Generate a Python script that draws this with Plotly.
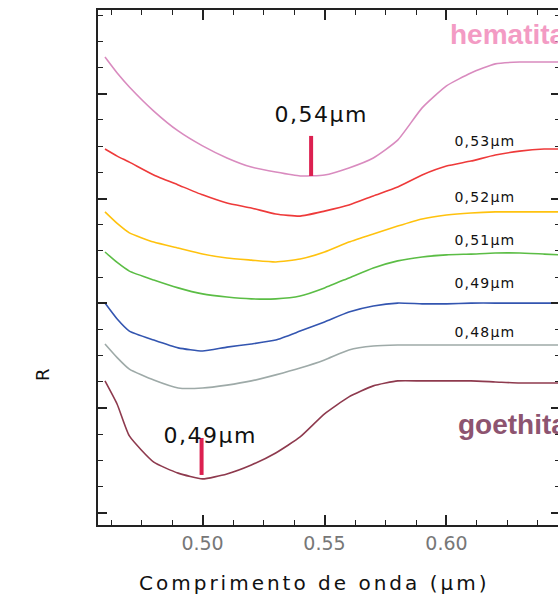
import plotly.graph_objects as go

wavelength = [0.46, 0.465, 0.47, 0.48, 0.49, 0.50, 0.51, 0.52, 0.53, 0.54, 0.55,
              0.56, 0.57, 0.58, 0.59, 0.60, 0.61, 0.62, 0.63, 0.64, 0.6465]

hematita = [17.40, 16.79, 16.26, 15.34, 14.58, 14.01, 13.55, 13.20, 13.01, 12.86, 12.90,
            13.17, 13.55, 14.23, 15.46, 16.30, 16.79, 17.14, 17.21, 17.21, 17.21]
mix_053 = [13.89, 13.62, 13.39, 12.90, 12.52, 12.14, 11.83, 11.64, 11.41, 11.33, 11.52,
           11.75, 12.10, 12.44, 12.90, 13.24, 13.43, 13.66, 13.81, 13.89, 13.89]
mix_052 = [11.49, 11.05, 10.69, 10.34, 10.11, 9.88, 9.73, 9.65, 9.58, 9.69, 9.96,
           10.34, 10.65, 10.95, 11.22, 11.37, 11.45, 11.49, 11.49, 11.49, 11.49]
mix_051 = [9.96, 9.56, 9.23, 8.89, 8.59, 8.36, 8.24, 8.17, 8.17, 8.28, 8.59,
           8.97, 9.35, 9.62, 9.77, 9.85, 9.88, 9.92, 9.92, 9.88, 9.85]
mix_049 = [8.01, 7.40, 6.94, 6.60, 6.30, 6.18, 6.33, 6.45, 6.60, 6.94, 7.29,
           7.67, 7.90, 8.01, 7.98, 7.98, 8.01, 8.01, 8.01, 8.01, 8.01]
mix_048 = [6.45, 5.93, 5.49, 5.07, 4.77, 4.77, 4.88, 5.04, 5.27, 5.53, 5.84,
           6.22, 6.37, 6.41, 6.41, 6.41, 6.41, 6.41, 6.41, 6.41, 6.41]
goethita = [5.04, 4.15, 2.94, 1.94, 1.52, 1.30, 1.49, 1.83, 2.29, 2.90, 3.78,
            4.43, 4.85, 5.04, 5.04, 5.04, 5.04, 5.00, 4.96, 4.96, 4.96]

series = [hematita, mix_053, mix_052, mix_051, mix_049, mix_048, goethita]
series_names = ["hematita", "0,53µm", "0,52µm", "0,51µm", "0,49µm", "0,48µm", "goethita"]
colors = ["#d98bbf", "#ee3a3a", "#ffc20e", "#5bbd45", "#3355b0", "#9eaaa8", "#8e3a4e"]

# absorption minima markers (wavelength, top, bottom)
hem_min_x = [0.5445, 0.5445]
hem_min_y = [14.39, 12.86]
goe_min_x = [0.4996, 0.4996]
goe_min_y = [2.86, 1.45]

side_labels = ["0,53µm", "0,52µm", "0,51µm", "0,49µm", "0,48µm"]
side_label_y = [14.20, 12.06, 10.42, 8.78, 6.91]

fig = go.Figure()
for ys, name, c in zip(series, series_names, colors):
    fig.add_trace(go.Scatter(x=wavelength, y=ys, mode="lines", name=name,
                             line=dict(color=c, width=1.6, shape="spline", smoothing=0.5),
                             showlegend=False, hoverinfo="skip"))
for mx, my in [(hem_min_x, hem_min_y), (goe_min_x, goe_min_y)]:
    fig.add_trace(go.Scatter(x=mx, y=my, mode="lines",
                             line=dict(color="#dc2050", width=4),
                             showlegend=False, hoverinfo="skip"))

ann = []
for t, yy in zip(side_labels, side_label_y):
    ann.append(dict(x=0.6159, y=yy, xref="x", yref="y", text=t, showarrow=False,
                    font=dict(family="DejaVu Sans", size=14, color="#111")))
ann.append(dict(x=0.5486, y=15.19, xref="x", yref="y", text="0,54µm", showarrow=False,
                font=dict(family="DejaVu Sans", size=22, color="#111")))
ann.append(dict(x=0.5029, y=2.94, xref="x", yref="y", text="0,49µm", showarrow=False,
                font=dict(family="DejaVu Sans", size=22, color="#111")))
ann.append(dict(x=0.6008, y=18.28, xref="x", yref="y", text="<b>hematita</b>", showarrow=False,
                xanchor="left", font=dict(family="Liberation Sans", size=28, color="#f39bc4")))
ann.append(dict(x=0.6037, y=3.36, xref="x", yref="y", text="<b>goethita</b>", showarrow=False,
                xanchor="left", font=dict(family="Liberation Sans", size=28, color="#8d5470")))
ann.append(dict(x=-0.147, y=0.2757, xref="paper", yref="paper", text="R", showarrow=False,
                textangle=-90, font=dict(family="DejaVu Sans", size=18, color="#111")))
ann.append(dict(x=0.468, y=-0.113, xref="paper", yref="paper",
                text="Comprimento de onda (µm)", showarrow=False, yanchor="middle",
                font=dict(family="DejaVu Sans", size=20, color="#111")))

# the frame continues slightly past the right edge of the page, as in the reference
fig.update_layout(
    width=562, height=601,
    margin=dict(l=98, r=0, t=10, b=76),
    paper_bgcolor="white", plot_bgcolor="white",
    annotations=ann,
    xaxis=dict(range=[0.45714, 0.64653], showgrid=False, zeroline=False,
               tick0=0.5, dtick=0.05, tickformat=".2f", ticks="inside", ticklen=10,
               tickwidth=1.5, tickcolor="#222", showline=True, linecolor="#222",
               linewidth=2, mirror="ticks",
               tickfont=dict(family="DejaVu Sans", size=19, color="#777"),
               minor=dict(dtick=0.0125, tick0=0.5, ticks="inside", ticklen=5,
                          tickwidth=1.2, tickcolor="#222", showgrid=False)),
    yaxis=dict(range=[-0.46, 19.196], showgrid=False, zeroline=False,
               tick0=0, dtick=4, ticks="inside", ticklen=9, tickwidth=1.5,
               tickcolor="#222", showline=True, linecolor="#222", linewidth=2,
               mirror="ticks", showticklabels=False,
               minor=dict(dtick=1, tick0=0, ticks="inside", ticklen=5,
                          tickwidth=1.2, tickcolor="#222", showgrid=False)),
)

post = """
document.documentElement.style.overflow = 'hidden';
document.body.style.margin = '0';
document.body.style.overflow = 'hidden';
var gd = document.getElementById('{plot_id}');
gd.querySelectorAll('text.annotation-text').forEach(function(t){
  var s = t.textContent;
  var fs = parseFloat(t.style.fontSize || '0');
  if (s.indexOf('Comprimento') === 0) { t.style.letterSpacing = '3px'; }
  else if (/^0,\\d\\d\\u00b5m$/.test(s)) {
    t.style.letterSpacing = (fs >= 20) ? '1.5px' : '1.2px';
  }
});
"""

fig.write_html("out.html", post_script=post, config={"displayModeBar": False})
